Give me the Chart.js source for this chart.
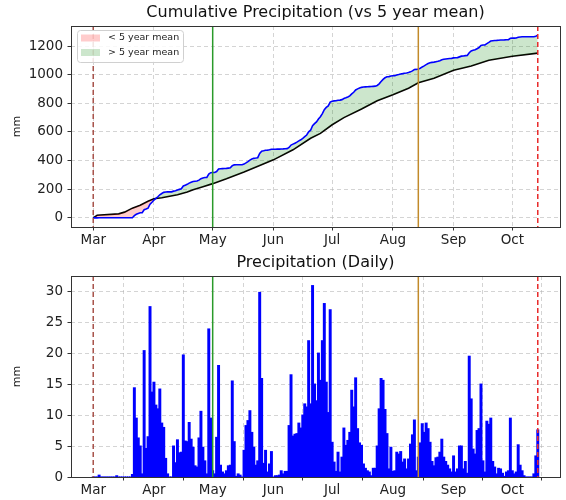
<!DOCTYPE html>
<html>
<head>
<meta charset="utf-8">
<script src="https://cdn.jsdelivr.net/npm/chart.js@4.4.0/dist/chart.umd.min.js"></script>
<style>
    html, body { margin: 0; padding: 0; background: #fff; }
    #wrap { position: relative; width: 566px; height: 500px; }
    .panel { position: absolute; left: 0; width: 566px; height: 250px; }
</style>
</head>
<body>
<div id="wrap">
    <div class="panel" style="top: 0;"><canvas id="cumChart" width="566" height="250"></canvas></div>
    <div class="panel" style="top: 250px;"><canvas id="dailyChart" width="566" height="250"></canvas></div>
</div>
<script>
// day 0 = 1 March
const monthLabels = ['Mar', 'Apr', 'May', 'Jun', 'Jul', 'Aug', 'Sep', 'Oct'];
const monthStartDays = [0, 31, 61, 92, 122, 153, 184, 214];
const markerDays = [0, 61, 166, 227];

// daily precipitation (mm), one value per day from 1 Mar
const dailyPrecip = [
    0, 0, 0, 0.3, 0, 0, 0, 0, 0, 0,
    0, 0, 0.2, 0, 0, 0, 0, 0, 0, 0,
    0.4, 14.4, 9.5, 6.3, 5.0, 0.5, 20.4, 4.6, 6.5, 27.5,
    13.7, 15.3, 11.6, 11.0, 14.2, 8.7, 8.0, 3.0, 0.5, 0,
    0, 5.0, 2.3, 6.0, 3.9, 4.0, 19.7, 5.8, 5.7, 8.8,
    6.1, 4.8, 1.8, 1.6, 6.3, 10.6, 4.8, 2.6, 0.5, 23.9,
    9.5, 1.0, 0.5, 6.4, 18.0, 1.9, 0.8, 0.5, 1.0, 1.8,
    1.9, 15.5, 5.7, 0.1, 0.5, 0.3, 0, 4.3, 8.3, 9.1,
    10.7, 7.2, 4.8, 1.9, 2.6, 29.8, 15.9, 2.2, 4.3, 0.8,
    2.1, 4.1, 0, 0.2, 0.2, 0.3, 1.0, 0.5, 0.9, 0.9,
    8.3, 16.5, 6.6, 6.9, 7.0, 8.7, 7.9, 10.0, 11.8, 11.3,
    22.0, 11.8, 30.9, 15.0, 12.3, 20.0, 15.6, 22.0, 28.0, 15.3,
    10.4, 27.0, 5.6, 2.4, 0.9, 4.0, 0.8, 3.2, 7.9, 5.1,
    5.9, 7.2, 14.0, 11.3, 16.0, 7.8, 5.5, 5.1, 2.1, 1.4,
    1.0, 0.8, 0.2, 1.4, 1.4, 5.0, 11.0, 15.9, 15.6, 10.9,
    7.0, 1.3, 4.8, 0.9, 1.0, 4.0, 3.7, 4.1, 2.4, 2.9,
    1.3, 2.9, 5.3, 6.8, 9.2, 1.0, 3.2, 5.5, 8.6, 7.2,
    8.7, 7.8, 5.6, 2.5, 1.8, 3.1, 3.2, 4.0, 6.1, 3.2,
    2.5, 1.9, 1.3, 0.8, 3.4, 0.8, 1.3, 5.0, 5.0, 1.3,
    2.5, 0.6, 19.5, 12.6, 4.5, 3.7, 7.5, 7.8, 15.0, 2.6,
    0.8, 9.0, 8.5, 9.5, 2.5, 1.6, 0.5, 1.4, 1.3, 0.6,
    0.1, 0.8, 1.0, 9.5, 1.0, 0.5, 0.8, 5.2, 1.9, 1.0,
    0.2, 0, 0, 0, 0, 0.5, 3.4, 7.6
];

// 5 year mean cumulative precipitation (mm)
const meanDays = [0, 2, 13, 16, 20, 24, 28, 31, 35, 43, 48, 51, 56, 61, 68, 77, 85, 92, 102, 111,
    116, 122, 128, 137, 145, 153, 161, 166, 174, 184, 193, 202, 214, 227];
const meanCumulative = [0, 18, 28, 40, 68, 88, 116, 133, 140, 162, 180, 197, 218, 239, 273, 320, 366, 405, 475, 556,
    590, 650, 700, 760, 818, 860, 905, 943, 975, 1031, 1060, 1100, 1128, 1150];

const cumTicks = [0, 200, 400, 600, 800, 1000, 1200];
const dailyTicks = [0, 5, 10, 15, 20, 25, 30];
const legendLabels = ['< 5 year mean', '> 5 year mean'];

Chart.defaults.font.family = "'DejaVu Sans', sans-serif";
Chart.defaults.color = '#222';

const gridColor = 'rgba(176, 176, 176, 0.55)';
const belowColor = 'rgba(255, 0, 0, 0.2)';
const aboveColor = 'rgba(0, 128, 0, 0.2)';

let running = 0;
const cumulative = dailyPrecip.map(v => (running += v));
const lastDay = dailyPrecip.length - 1;
const xPad = 0.05 * lastDay;
const cumMax = Math.max(...cumulative, ...meanCumulative);
const dailyMax = Math.max(...dailyPrecip);

const markerStyles = [
    { color: '#a8524a', dash: [5, 3] },
    { color: '#2a9a2a', dash: [] },
    { color: '#c28a2a', dash: [] },
    { color: '#e82a2a', dash: [5, 3] }
];

const markerPlugin = {
    id: 'markers',
    afterDatasetsDraw(chart) {
        const { ctx, chartArea, scales } = chart;
        ctx.save();
        markerDays.forEach((d, i) => {
            const x = scales.x.getPixelForValue(d);
            ctx.strokeStyle = markerStyles[i].color;
            ctx.lineWidth = 1.5;
            ctx.setLineDash(markerStyles[i].dash);
            ctx.beginPath();
            ctx.moveTo(x, chartArea.top);
            ctx.lineTo(x, chartArea.bottom);
            ctx.stroke();
        });
        ctx.restore();
    }
};

const framePlugin = {
    id: 'frame',
    afterDraw(chart) {
        const { ctx, chartArea } = chart;
        ctx.save();
        ctx.strokeStyle = '#333';
        ctx.lineWidth = 1;
        ctx.strokeRect(Math.round(chartArea.left) + 0.5, Math.round(chartArea.top) + 0.5,
            Math.round(chartArea.width), Math.round(chartArea.height));
        ctx.restore();
    }
};

const legendPlugin = {
    id: 'boxLegend',
    afterDraw(chart) {
        const { ctx, chartArea } = chart;
        const x0 = chartArea.left + 6, y0 = chartArea.top + 4;
        const w = 106, h = 32;
        ctx.save();
        ctx.fillStyle = 'rgba(255,255,255,0.85)';
        ctx.strokeStyle = '#d0d0d0';
        ctx.lineWidth = 1;
        ctx.beginPath();
        ctx.roundRect(x0 + 0.5, y0 + 0.5, w, h, 3);
        ctx.fill();
        ctx.stroke();
        const colors = [belowColor, aboveColor];
        ctx.font = "9.5px 'DejaVu Sans'";
        ctx.textBaseline = 'middle';
        legendLabels.forEach((label, i) => {
            const cy = y0 + 8 + i * 14.5;
            ctx.fillStyle = colors[i];
            ctx.fillRect(x0 + 4, cy - 3.5, 19, 7);
            ctx.fillStyle = '#222';
            ctx.fillText(label, x0 + 31, cy);
        });
        ctx.restore();
    }
};

function xScale() {
    return {
        type: 'linear',
        min: -xPad,
        max: lastDay + xPad,
        offset: false,
        afterBuildTicks: scale => { scale.ticks = monthStartDays.map(v => ({ value: v })); },
        afterFit: scale => { scale.height = 23; },
        ticks: {
            autoSkip: false,
            maxRotation: 0,
            padding: 1.5,
            font: { size: 13.5 },
            callback: (value, index) => monthLabels[index]
        },
        grid: { color: gridColor, lineWidth: 1, tickLength: 3.5, tickColor: '#333', tickWidth: 1, tickBorderDash: [] },
        border: { display: false, dash: [4, 3] }
    };
}

function yScale(min, max, tickValues) {
    return {
        type: 'linear',
        min: min,
        max: max,
        afterBuildTicks: scale => { scale.ticks = tickValues.map(v => ({ value: v })); },
        afterFit: scale => { scale.width = 71; },
        title: { display: true, text: 'mm', font: { size: 11 }, color: '#222', padding: { top: 11, bottom: 0 } },
        ticks: { padding: 4.5, font: { size: 13.5 }, callback: value => String(value) },
        grid: { color: gridColor, lineWidth: 1, tickLength: 3.5, tickColor: '#333', tickWidth: 1, tickBorderDash: [] },
        border: { display: false, dash: [4, 3] }
    };
}

function titleOptions(text) {
    return {
        display: true,
        text: text,
        fullSize: false,
        color: '#111',
        font: { size: 16, weight: 'normal' },
        padding: { top: 3.4, bottom: 3.4 }
    };
}

new Chart(document.getElementById('cumChart'), {
    type: 'line',
    data: {
        datasets: [
            {
                data: cumulative.map((v, i) => ({ x: i, y: v })),
                borderColor: '#0000ff',
                borderWidth: 1.6,
                pointRadius: 0,
                tension: 0,
                fill: { target: 1, above: aboveColor, below: belowColor }
            },
            {
                data: meanDays.map((d, i) => ({ x: d, y: meanCumulative[i] })),
                borderColor: '#000',
                borderWidth: 1.6,
                pointRadius: 0,
                tension: 0,
                fill: false
            }
        ]
    },
    options: {
        responsive: false,
        animation: false,
        events: [],
        layout: { padding: { left: 0, right: 6, top: 0, bottom: 0 } },
        scales: {
            x: xScale(),
            y: yScale(-0.05 * cumMax, 1.05 * cumMax, cumTicks)
        },
        plugins: {
            title: titleOptions('Cumulative Precipitation (vs 5 year mean)'),
            legend: { display: false },
            tooltip: { enabled: false }
        }
    },
    plugins: [markerPlugin, legendPlugin, framePlugin]
});

new Chart(document.getElementById('dailyChart'), {
    type: 'bar',
    data: {
        datasets: [{
            data: dailyPrecip.map((v, i) => ({ x: i, y: v })),
            backgroundColor: '#0000ff',
            borderWidth: 0,
            barPercentage: 1,
            categoryPercentage: 1,
            inflateAmount: 0.5
        }]
    },
    options: {
        responsive: false,
        animation: false,
        events: [],
        layout: { padding: { left: 0, right: 6, top: 0, bottom: 0 } },
        scales: {
            x: xScale(),
            y: yScale(0, 1.05 * dailyMax, dailyTicks)
        },
        plugins: {
            title: titleOptions('Precipitation (Daily)'),
            legend: { display: false },
            tooltip: { enabled: false }
        }
    },
    plugins: [markerPlugin, framePlugin]
});
</script>
</body>
</html>
